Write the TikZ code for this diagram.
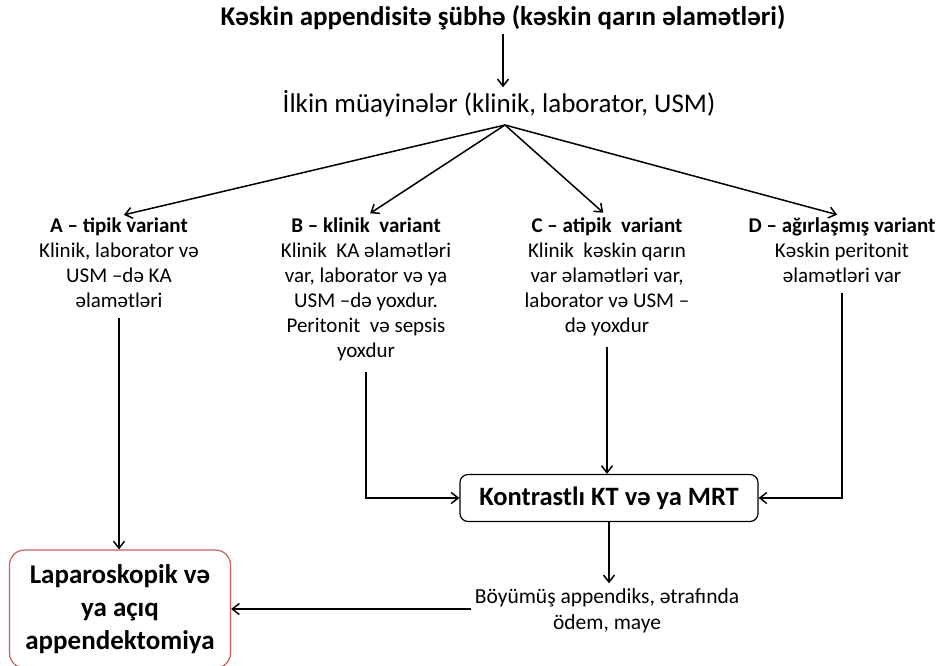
\documentclass[tikz,border=0pt]{standalone}
\usepackage{fontspec}
\setmainfont{Carlito}
\usetikzlibrary{arrows.meta,calc}
\definecolor{LapClr}{rgb}{0.78,0.36,0.35}
\newcommand{\Head}[1]{{\bfseries #1}}
\newcommand{\FS}[2]{\fontsize{#1}{#2}\selectfont}

\begin{document}
\begin{tikzpicture}[x=1pt,y=-1pt,
  arr/.style={-{Straight Barb[length=7pt,width=11pt]},line width=1.5pt},
  variant/.style={align=center,anchor=north,font=\FS{21}{25},inner sep=2pt},
  box/.style={draw,rounded corners=8pt,line width=1.2pt,align=center}]
\useasboundingbox (0,0) rectangle (941,665);
\node[font=\FS{27}{30}\bfseries] (susp) at (503,18) {Kəskin appendisitə şübhə (kəskin qarın əlamətləri)};
\node[font=\FS{27}{30}] (ilkin) at (499,104) {İlkin müayinələr (klinik, laborator, USM)};
\coordinate (fan) at (505,125);
\node[variant] (A) at (119,216) {\Head{A – tipik variant}\\Klinik, laborator və\\USM –də KA\\əlamətləri};
\node[variant] (B) at (366,216) {\Head{B – klinik\ \ variant}\\Klinik\ \ KA əlamətləri\\var, laborator və ya\\USM –də yoxdur.\\Peritonit\ \ və sepsis\\yoxdur};
\node[variant] (C) at (607,216) {\Head{C – atipik\ \ variant}\\Klinik\ \ kəskin qarın\\var əlamətləri var,\\laborator və USM –\\də yoxdur};
\node[variant] (D) at (842,216) {\Head{D – ağırlaşmış variant}\\Kəskin peritonit\\əlamətləri var};
\node[box,font=\FS{26.5}{30}\bfseries,minimum width=298pt,minimum height=47pt] (kt) at (609,498) {Kontrastlı KT və ya MRT};
\node[align=center,font=\FS{21.5}{26}] (find) at (607,611) {Böyümüş appendiks, ətrafında\\ödem, maye};
\node[box,draw=LapClr,rounded corners=15pt,font=\FS{27}{33}\bfseries,minimum width=221pt,minimum height=118pt] (lap) at (120,609) {Laparoskopik və\\ya açıq\\appendektomiya};

\draw[arr] (susp.south) -- (susp.south |- ilkin.north);
\foreach \v in {A,B,C,D}
  \draw[arr,shorten >=5pt] (fan) -- (\v.north);
\draw[arr,shorten <=8pt] (A.south) -- (A.south |- lap.north);
\draw[arr,shorten <=8pt] (B.south) |- (kt.west);
\draw[arr,shorten <=8pt] (C.south) -- (C.south |- kt.north);
\draw[arr,shorten <=8pt] (D.south) |- (kt.east);
\draw[arr,shorten >=2pt] (kt.south) -- (kt.south |- find.north);
\draw[arr] (find.west |- lap.east) -- (lap.east);
\end{tikzpicture}
\end{document}
